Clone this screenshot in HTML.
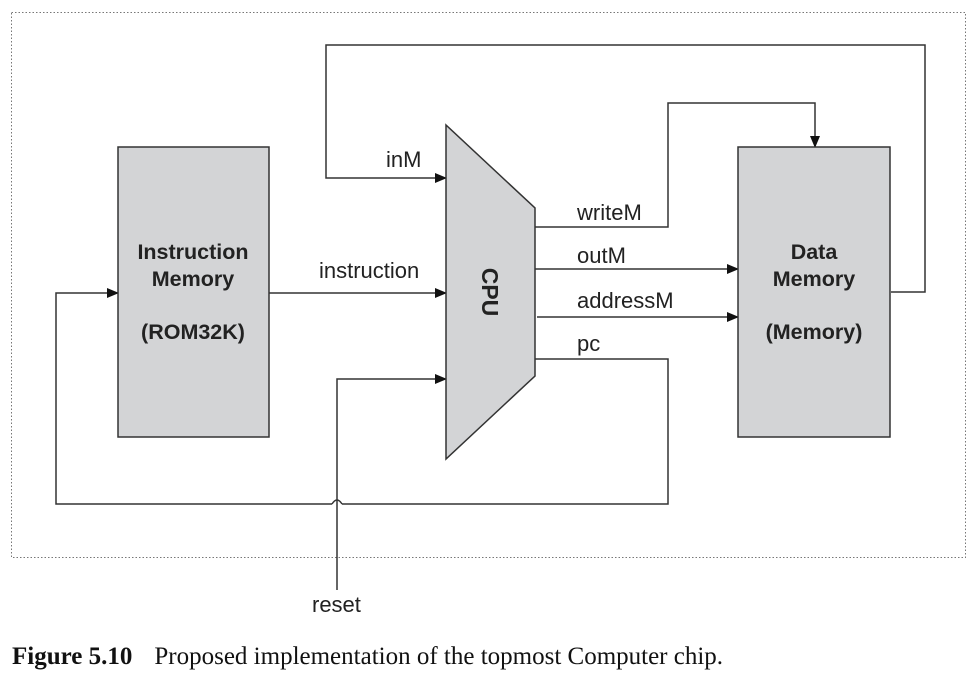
<!DOCTYPE html>
<html><head><meta charset="utf-8"><style>
html,body{margin:0;padding:0;background:#fff;}
body{width:976px;height:681px;overflow:hidden;}
.s{font-family:"Liberation Sans",Arial,sans-serif;}
.r{font-family:"Liberation Serif","Times New Roman",serif;}
</style></head><body>
<svg width="976" height="681" viewBox="0 0 976 681" xmlns="http://www.w3.org/2000/svg">
<defs>
<marker id="a" markerWidth="12" markerHeight="10" refX="11" refY="5" orient="auto" markerUnits="userSpaceOnUse">
<path d="M0,0 L12,5 L0,10 z" fill="#111"/></marker>
</defs>
<rect x="11.5" y="12.5" width="954" height="545" fill="none" stroke="#777" stroke-dasharray="1.5,2" stroke-width="1"/>
<g stroke="#333" stroke-width="1.5" fill="none">
<polyline points="891,292 925,292 925,45 326,45 326,178 446,178" marker-end="url(#a)"/>
<polyline points="535,227 668,227 668,103 815,103 815,147" marker-end="url(#a)"/>
<line x1="535" y1="269" x2="738" y2="269" marker-end="url(#a)"/>
<line x1="537" y1="317" x2="738" y2="317" marker-end="url(#a)"/>
<polyline points="535,359 668,359 668,504 342,504"/>
<path d="M342,504 Q337,496 332,504"/>
<polyline points="332,504 56,504 56,293 118,293" marker-end="url(#a)"/>
<line x1="269" y1="293" x2="446" y2="293" marker-end="url(#a)"/>
<polyline points="337,590 337,379 446,379" marker-end="url(#a)"/>
</g>
<rect x="118" y="147" width="151" height="290" fill="#d3d4d6" stroke="#333" stroke-width="1.5"/>
<rect x="738" y="147" width="152" height="290" fill="#d3d4d6" stroke="#333" stroke-width="1.5"/>
<polygon points="446,125 535,208 535,376 446,459" fill="#d3d4d6" stroke="#333" stroke-width="1.5"/>
<g class="s" font-weight="bold" font-size="21.5" fill="#222" text-anchor="middle">
<text x="193" y="259">Instruction</text>
<text x="193" y="286">Memory</text>
<text x="193" y="339">(ROM32K)</text>
<text x="814" y="259">Data</text>
<text x="814" y="286">Memory</text>
<text x="814" y="339">(Memory)</text>
<text transform="translate(482,292) rotate(90)" font-size="23">CPU</text>
</g>
<g class="s" font-size="22" fill="#222">
<text x="386" y="167">inM</text>
<text x="319" y="278">instruction</text>
<text x="577" y="220">writeM</text>
<text x="577" y="263">outM</text>
<text x="577" y="308">addressM</text>
<text x="577" y="351">pc</text>
<text x="312" y="612">reset</text>
</g>
<text class="r" x="12" y="664" font-size="25" fill="#111"><tspan font-weight="bold">Figure 5.10</tspan><tspan dx="22">Proposed implementation of the topmost Computer chip.</tspan></text>
</svg>
</body></html>
